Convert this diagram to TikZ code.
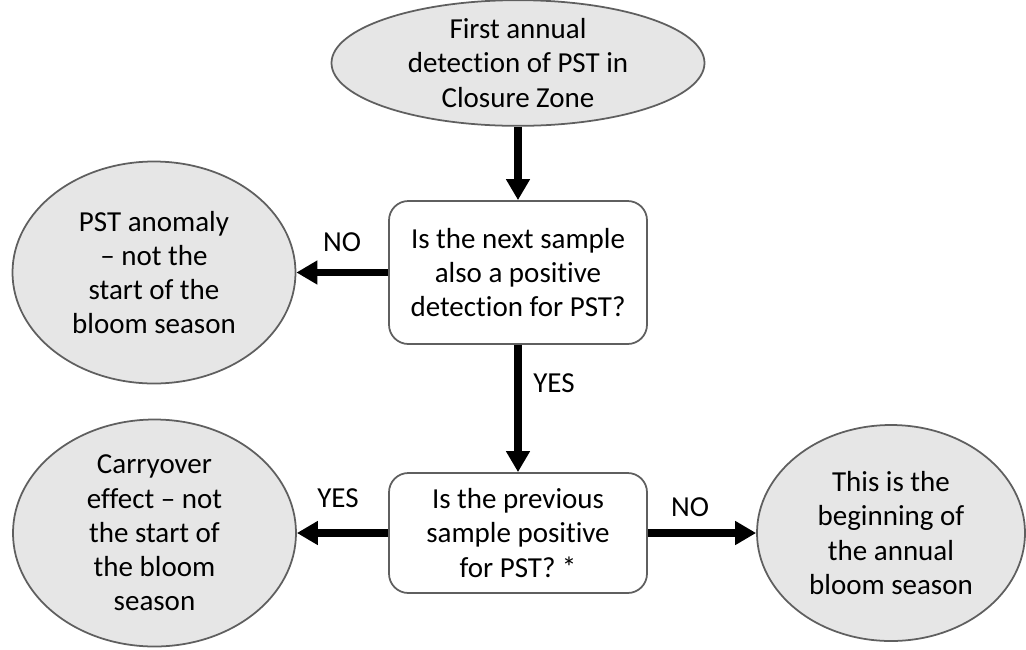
\documentclass[tikz,border=0pt]{standalone}
\usepackage{fontspec}
\setmainfont{Carlito}[Ligatures=NoCommon]
\usepackage{xcolor}
\usepackage{tikz}
\usetikzlibrary{shapes,arrows,positioning,calc,arrows.meta}

\definecolor{shade}{RGB}{230,230,230}
\definecolor{rim}{RGB}{95,95,95}

\tikzset{
    txt/.style={font=\fontsize{16.5}{19.5}\selectfont, align=center, inner sep=0pt},
    oval/.style={txt, ellipse, draw=rim, line width=1pt, fill=shade},
    query/.style={txt, rectangle, rounded corners=11pt, draw=rim, line width=1pt, fill=white,
                  minimum width=5.16cm},
    flow/.style={line width=4pt, -{Triangle[width=13pt,length=12pt]}},
    tag/.style={font=\fontsize{16.5}{19.5}\selectfont, inner sep=0pt}
}

\begin{document}
\begin{tikzpicture}
    \useasboundingbox (0,0) rectangle (20.52,-12.98);

    % Start
    \node[oval, minimum width=7.46cm, minimum height=2.22cm] (first) at (10.36,-1.26)
        {First annual\\detection of PST in\\Closure Zone};

    % Questions
    \node[query, minimum height=2.86cm] (next) at (10.36,-5.45)
        {Is the next sample\\also a positive\\detection for PST?};
    \node[query, minimum height=2.4cm] (prev) at (10.36,-10.66)
        {Is the previous\\sample positive\\for PST? *};

    % Outcomes
    \node[oval, minimum width=5.66cm, minimum height=4.44cm] (anomaly) at (3.08,-5.45)
        {PST anomaly\\-- not the\\start of the\\bloom season};
    \node[oval, minimum width=5.66cm, minimum height=4.54cm] (carry) at (3.09,-10.66)
        {Carryover\\effect -- not\\the start of\\the bloom\\season};
    \node[oval, minimum width=5.36cm, minimum height=4.32cm] (begin) at (17.82,-10.66)
        {This is the\\beginning of\\the annual\\bloom season};

    % Arrows
    \draw[flow] (first) -- (next);
    \draw[flow] (next) -- (anomaly);
    \draw[flow] (next) -- (prev);
    \draw[flow] (prev) -- (carry);
    \draw[flow] (prev) -- (begin);

    % Labels
    \node[tag] (no1) at (6.84,-4.84) {NO};
    \node[tag] (yes1) at (11.08,-7.66) {YES};
    \node[tag] (yes2) at (6.76,-9.96) {YES};
    \node[tag] (no2) at (13.8,-10.14) {NO};
\end{tikzpicture}
\end{document}
